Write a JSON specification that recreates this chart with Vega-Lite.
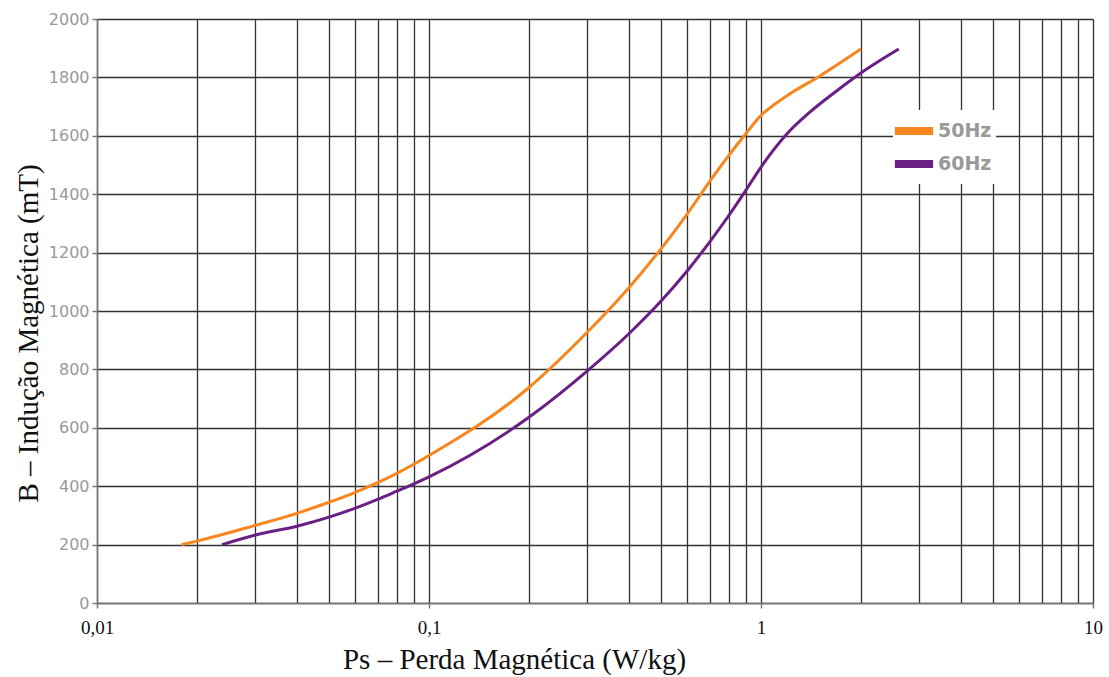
{
  "$schema": "https://vega.github.io/schema/vega-lite/v6.json",
  "width": 996,
  "height": 584,
  "autosize": "none",
  "padding": {"left": 97, "top": 19, "right": 16, "bottom": 74},
  "background": "white",
  "config": {"view": {"stroke": null}},
  "data": {
    "values": [
      {"serie": "50Hz", "ps": 0.018, "b": 200},
      {"serie": "50Hz", "ps": 0.02, "b": 212},
      {"serie": "50Hz", "ps": 0.03, "b": 266},
      {"serie": "50Hz", "ps": 0.04, "b": 307},
      {"serie": "50Hz", "ps": 0.05, "b": 345},
      {"serie": "50Hz", "ps": 0.06, "b": 379},
      {"serie": "50Hz", "ps": 0.07, "b": 412},
      {"serie": "50Hz", "ps": 0.08, "b": 444},
      {"serie": "50Hz", "ps": 0.09, "b": 475},
      {"serie": "50Hz", "ps": 0.1, "b": 505},
      {"serie": "50Hz", "ps": 0.2, "b": 738},
      {"serie": "50Hz", "ps": 0.3, "b": 928},
      {"serie": "50Hz", "ps": 0.4, "b": 1080},
      {"serie": "50Hz", "ps": 0.5, "b": 1213},
      {"serie": "50Hz", "ps": 0.6, "b": 1333},
      {"serie": "50Hz", "ps": 0.7, "b": 1443},
      {"serie": "50Hz", "ps": 0.8, "b": 1533},
      {"serie": "50Hz", "ps": 0.9, "b": 1607},
      {"serie": "50Hz", "ps": 1, "b": 1670},
      {"serie": "50Hz", "ps": 1.1, "b": 1708},
      {"serie": "50Hz", "ps": 1.2, "b": 1738},
      {"serie": "50Hz", "ps": 1.5, "b": 1804},
      {"serie": "50Hz", "ps": 2, "b": 1897},
      {"serie": "60Hz", "ps": 0.0238, "b": 200},
      {"serie": "60Hz", "ps": 0.03, "b": 233},
      {"serie": "60Hz", "ps": 0.04, "b": 263},
      {"serie": "60Hz", "ps": 0.05, "b": 294},
      {"serie": "60Hz", "ps": 0.06, "b": 325},
      {"serie": "60Hz", "ps": 0.07, "b": 355},
      {"serie": "60Hz", "ps": 0.08, "b": 383},
      {"serie": "60Hz", "ps": 0.09, "b": 408},
      {"serie": "60Hz", "ps": 0.1, "b": 432},
      {"serie": "60Hz", "ps": 0.2, "b": 636},
      {"serie": "60Hz", "ps": 0.3, "b": 795},
      {"serie": "60Hz", "ps": 0.4, "b": 922},
      {"serie": "60Hz", "ps": 0.5, "b": 1034},
      {"serie": "60Hz", "ps": 0.6, "b": 1138},
      {"serie": "60Hz", "ps": 0.7, "b": 1236},
      {"serie": "60Hz", "ps": 0.8, "b": 1327},
      {"serie": "60Hz", "ps": 0.9, "b": 1413},
      {"serie": "60Hz", "ps": 1, "b": 1493},
      {"serie": "60Hz", "ps": 1.2, "b": 1608},
      {"serie": "60Hz", "ps": 1.4, "b": 1680},
      {"serie": "60Hz", "ps": 1.7, "b": 1756},
      {"serie": "60Hz", "ps": 2, "b": 1815},
      {"serie": "60Hz", "ps": 2.6, "b": 1897}
    ]
  },
  "mark": {"type": "line", "interpolate": "monotone", "strokeWidth": 3},
  "encoding": {
    "x": {
      "field": "ps",
      "type": "quantitative",
      "scale": {"type": "log", "domain": [0.01, 10], "nice": false},
      "axis": {
        "values": [0.01, 0.02, 0.03, 0.04, 0.05, 0.06, 0.07, 0.08, 0.09, 0.1, 0.2, 0.3, 0.4, 0.5, 0.6, 0.7, 0.8, 0.9, 1, 2, 3, 4, 5, 6, 7, 8, 9, 10],
        "labelExpr": "datum.value == 0.01 ? '0,01' : datum.value == 0.1 ? '0,1' : datum.value == 1 ? '1' : datum.value == 10 ? '10' : ''",
        "tickOpacity": {"condition": {"test": "datum.value == 0.01 || datum.value == 0.1 || datum.value == 1 || datum.value == 10", "value": 1}, "value": 0},
        "grid": true,
        "gridColor": "#333333",
        "gridWidth": 1.3,
        "gridOpacity": 1,
        "domainColor": "#777777",
        "domainWidth": 1.5,
        "tickColor": "#777777",
        "tickSize": 5,
        "tickWidth": 1.5,
        "labelFont": "Liberation Serif",
        "labelFontSize": 19,
        "labelColor": "#111111",
        "labelPadding": 10,
        "labelFlush": false,
        "title": "Ps – Perda Magnética (W/kg)",
        "titleFont": "Liberation Serif",
        "titleFontSize": 29,
        "titleFontWeight": "normal",
        "titleColor": "#111111",
        "titlePadding": 8,
        "titleX": 417
      }
    },
    "y": {
      "field": "b",
      "type": "quantitative",
      "scale": {"domain": [0, 2000], "nice": false},
      "axis": {
        "values": [0, 200, 400, 600, 800, 1000, 1200, 1400, 1600, 1800, 2000],
        "format": "d",
        "grid": true,
        "gridColor": "#333333",
        "gridWidth": 1.3,
        "gridOpacity": 1,
        "domainColor": "#777777",
        "domainWidth": 1.5,
        "tickColor": "#777777",
        "tickSize": 5,
        "tickWidth": 1.5,
        "labelFont": "DejaVu Sans",
        "labelFontSize": 16,
        "labelColor": "#999999",
        "labelPadding": 3,
        "title": "B – Indução Magnética (mT)",
        "titleFont": "Liberation Serif",
        "titleFontSize": 29,
        "titleFontWeight": "normal",
        "titleColor": "#111111",
        "titlePadding": 5,
        "titleY": 314
      }
    },
    "color": {
      "field": "serie",
      "type": "nominal",
      "scale": {"domain": ["50Hz", "60Hz"], "range": ["#F7861E", "#6A1F84"]},
      "legend": {
        "title": null,
        "orient": "none",
        "legendX": 796,
        "legendY": 91,
        "fillColor": "white",
        "padding": 4,
        "symbolType": "M-1.5,0L1.5,0",
        "symbolStrokeWidth": 8,
        "symbolSize": 650,
        "labelFont": "DejaVu Sans",
        "labelFontSize": 19,
        "labelFontWeight": "bold",
        "labelColor": "#999999",
        "labelOffset": 7,
        "rowPadding": -8
      }
    }
  }
}
